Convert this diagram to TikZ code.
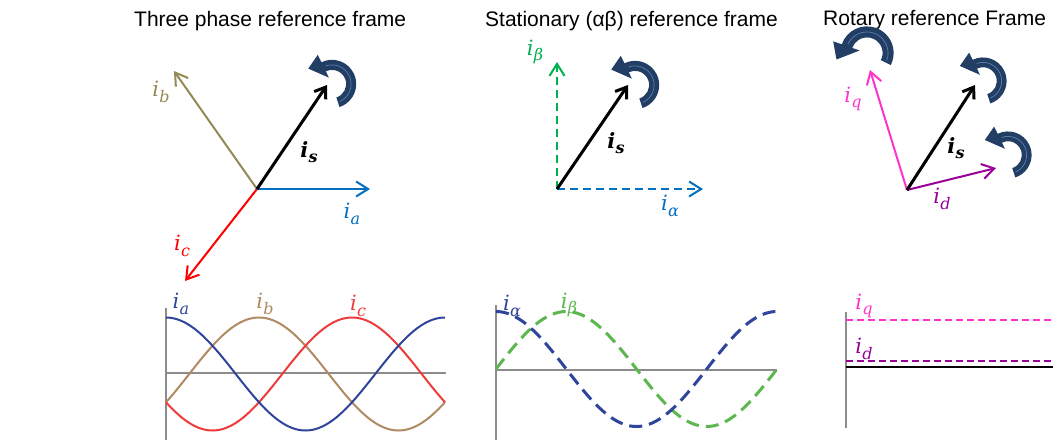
\documentclass[tikz,border=0pt]{standalone}
\usepackage{fontspec}
\setmainfont{Liberation Sans}
\newfontfamily\lblfont{DejaVu Serif}
\usetikzlibrary{arrows.meta}
\definecolor{cA}{HTML}{0070C0}
\definecolor{cB}{HTML}{948A54}
\definecolor{cC}{HTML}{FF0000}
\definecolor{cBeta}{HTML}{00B050}
\definecolor{cQ}{HTML}{FF33CC}
\definecolor{cD}{HTML}{990099}
\definecolor{rotblue}{RGB}{35,62,100}
\definecolor{rotlight}{RGB}{90,125,170}
\definecolor{wA}{HTML}{2E459B}
\definecolor{wB}{HTML}{B08A63}
\definecolor{wC}{HTML}{EE3B3B}
\definecolor{wBeta}{HTML}{5CB84E}
\definecolor{axgray}{HTML}{8C8C8C}
\newcommand{\lb}[1]{{\lblfont\itshape i\kern0.3pt\raisebox{-0.26em}{\fontsize{16}{16}\selectfont #1}}}
\newcommand{\lbs}{{\lblfont\bfseries\itshape i\kern0.3pt\raisebox{-0.26em}{\fontsize{16}{16}\selectfont s}}}
\newcommand{\myrotarrow}[4]{%
  \begin{scope}[shift={(#1,#2)}, rotate=#3, scale=#4]
    \fill[rotblue] (-72:12pt) arc[start angle=-72, end angle=116, radius=12pt]
      -- (116:6pt) -- (147:24pt) -- (116:27.5pt) -- (116:20.5pt)
      arc[start angle=116, end angle=-72, radius=20.5pt] -- cycle;
    \draw[rotlight, line width=0.7pt] (-66:16.2pt) arc[start angle=-66, end angle=110, radius=16.2pt];
  \end{scope}}
\begin{document}
\begin{tikzpicture}[x=1pt,y=-1pt,
  title/.style={font=\fontsize{21}{25}\selectfont, inner sep=0pt, anchor=base west},
  lab/.style={font=\fontsize{21}{24}\selectfont, inner sep=0pt},
  vec/.style={line width=2pt, -{Straight Barb[length=12pt,width=15pt]}},
  svec/.style={line width=3pt, -{Straight Barb[length=10pt,width=14pt]}},
  dvec/.style={line width=2pt, dash pattern=on 8pt off 5pt, -{Straight Barb[length=12pt,width=15pt]}},
  axis/.style={axgray, line width=1.8pt},
  wave/.style={line width=2pt},
  dwave/.style={line width=3pt, dash pattern=on 13pt off 7pt},
  level/.style={line width=2pt, dash pattern=on 7pt off 4pt}]
\fill[white] (0,0) rectangle (1053,440);
\useasboundingbox (0,0) rectangle (1053,440);

% ---------- titles ----------
\node[title] (t1) at (134,26) {Three phase reference frame};
\node[title] (t2) at (485,26) {Stationary (αβ) reference frame};
\node[title] (t3) at (823,25) {Rotary reference Frame};

% ---------- panel 1 vectors ----------
\coordinate (o1) at (257,189);
\coordinate (a1) at (370,189);
\coordinate (b1) at (174,71);
\coordinate (c1) at (185,281);
\coordinate (s1) at (327,85);
\draw[vec, cB] (o1) -- (b1);
\draw[vec, cC] (o1) -- (c1);
\draw[vec, cA] (o1) -- (a1);
\draw[svec, black] (o1) -- (s1);
\node[lab, cB] (lb1) at (161,92) {\lb{b}};
\node[lab] (ls1) at (309,152) {\lbs};
\node[lab, cA] (la1) at (352,214) {\lb{a}};
\node[lab, cC] (lc1) at (182,246) {\lb{c}};
\myrotarrow{332}{84}{0}{1.18}

% ---------- panel 2 vectors ----------
\coordinate (o2) at (557,189);
\coordinate (al2) at (703,189);
\coordinate (be2) at (557,62);
\coordinate (s2) at (628,85);
\draw[dvec, cBeta] (o2) -- (be2);
\draw[dvec, cA] (o2) -- (al2);
\draw[svec, black] (o2) -- (s2);
\node[lab, cBeta] (lbe2) at (535,52) {\lb{β}};
\node[lab] (ls2) at (616,143) {\lbs};
\node[lab, cA] (lal2) at (670,206) {\lb{α}};
\myrotarrow{635}{85}{0}{1.18}

% ---------- panel 3 vectors ----------
\coordinate (o3) at (907,190);
\coordinate (q3) at (870,70);
\coordinate (d3) at (996,168);
\coordinate (s3) at (975,85);
\draw[vec, cQ] (o3) -- (q3);
\draw[vec, cD] (o3) -- (d3);
\draw[svec, black] (o3) -- (s3);
\node[lab, cQ] (lq3) at (853,99) {\lb{q}};
\node[lab] (ls3) at (956,148) {\lbs};
\node[lab, cD] (ld3) at (942,199) {\lb{d}};
\myrotarrow{867}{53}{45}{1.3}
\myrotarrow{983}{81}{0}{1.15}
\myrotarrow{1008}{155}{0}{1.15}

% ---------- panel 1 waves ----------
\coordinate (v1t) at (166,308);
\coordinate (v1b) at (166,440);
\coordinate (h1l) at (166,373);
\coordinate (h1r) at (446,373);
\draw[axis] (v1t) -- (v1b);
\draw[axis] (h1l) -- (h1r);
\draw[wave, wB] plot[domain=0:360, samples=91] ({166+\x/360*279}, {374-56.5*cos(\x-120)});
\draw[wave, wC] plot[domain=0:360, samples=91] ({166+\x/360*279}, {374-56.5*cos(\x+120)});
\draw[wave, wA] plot[domain=0:360, samples=91] ({166+\x/360*279}, {374-56.5*cos(\x)});
\node[lab, wA] (wla) at (181,304) {\lb{a}};
\node[lab, wB] (wlb) at (265,304) {\lb{b}};
\node[lab, wC] (wlc) at (358,306) {\lb{c}};

% ---------- panel 2 waves ----------
\coordinate (v2t) at (496,305);
\coordinate (v2b) at (496,440);
\coordinate (h2l) at (496,370);
\coordinate (h2r) at (777,370);
\draw[axis] (v2t) -- (v2b);
\draw[axis] (h2l) -- (h2r);
\draw[dwave, wBeta] plot[domain=0:360, samples=91] ({496+\x/360*281}, {369-57.5*sin(\x)});
\draw[dwave, wA] plot[domain=0:360, samples=91] ({496+\x/360*281}, {369-57.5*cos(\x)});
\node[lab, wA] (wlal) at (512,306) {\lb{α}};
\node[lab, wBeta] (wlbe) at (569,305) {\lb{β}};

% ---------- panel 3 levels ----------
\coordinate (v3t) at (846,312);
\coordinate (v3b) at (846,428);
\coordinate (h3l) at (846,367);
\coordinate (h3r) at (1053,367);
\coordinate (q3l) at (846,320);
\coordinate (q3r) at (1053,320);
\coordinate (d3l) at (846,361);
\coordinate (d3r) at (1053,361);
\draw[axis] (v3t) -- (v3b);
\draw[black, line width=1.5pt] (h3l) -- (h3r);
\draw[level, cQ] (q3l) -- (q3r);
\draw[level, cD] (d3l) -- (d3r);
\node[lab, cQ] (wlq) at (864,306) {\lb{q}};
\node[lab, cD] (wld) at (864,349) {\lb{d}};
\end{tikzpicture}
\end{document}
